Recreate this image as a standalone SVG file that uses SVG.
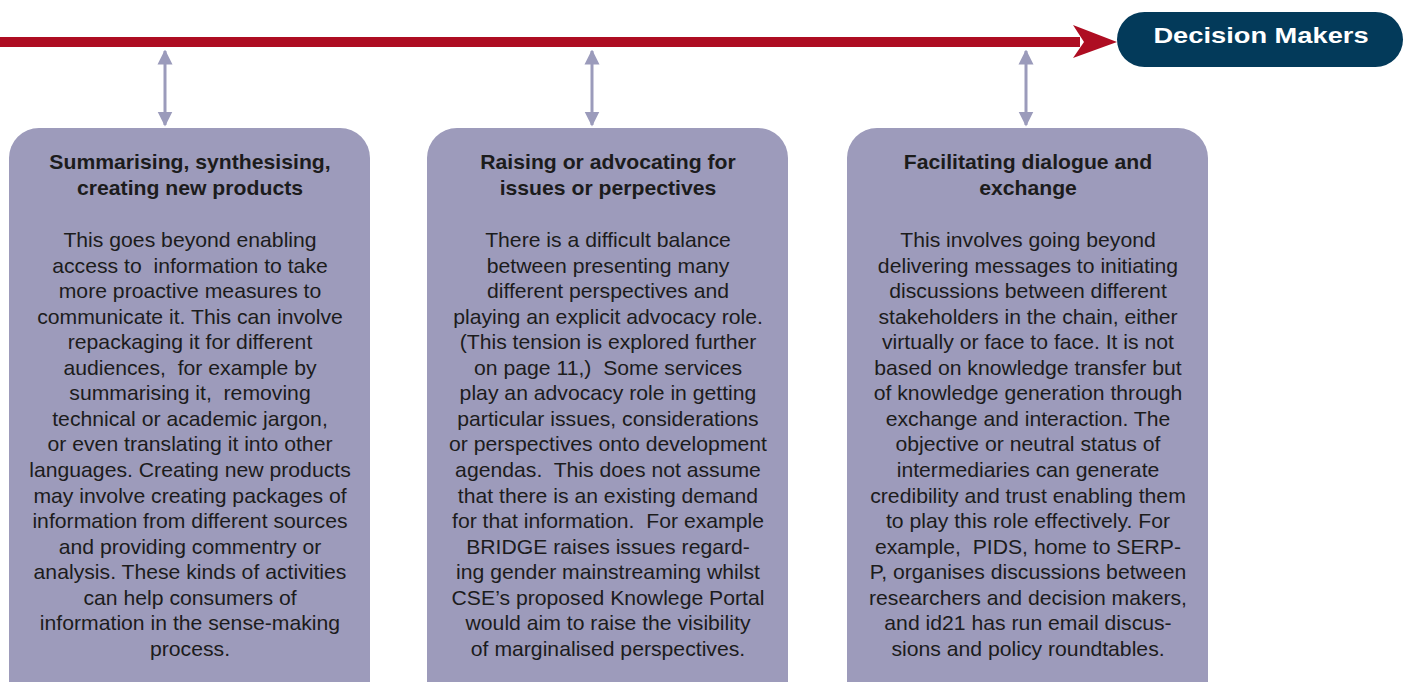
<svg xmlns="http://www.w3.org/2000/svg" width="1404" height="682" viewBox="0 0 1404 682">
<defs>
<style>
.box{fill:#9d9bbb}
.t{font-family:"Liberation Sans",Arial,sans-serif;font-size:20px;fill:#1c1c1c;text-anchor:middle;white-space:pre}
.h{font-weight:bold;font-size:20px}
.dm{font-family:"Liberation Sans",Arial,sans-serif;font-size:22px;font-weight:bold;fill:#ffffff;text-anchor:middle}
.dbl{stroke:#9b9bbb;stroke-width:3;fill:none}
</style>
<marker id="ah" viewBox="0 0 10 10" refX="9" refY="5" markerWidth="5" markerHeight="6" markerUnits="strokeWidth" orient="auto-start-reverse">
<path d="M0,0 L10,5 L0,10 Z" fill="#9b9bbb"/>
</marker>
</defs>
<g id="connectors">
<rect x="0" y="37" width="1080" height="10" fill="#ae0d22"/>
<path d="M1073,25 L1117,42 L1073,58 L1084,42 Z" fill="#ae0d22"/>
<line class="dbl" x1="165" y1="51" x2="165" y2="125" marker-start="url(#ah)" marker-end="url(#ah)"/>
<line class="dbl" x1="592" y1="51" x2="592" y2="125" marker-start="url(#ah)" marker-end="url(#ah)"/>
<line class="dbl" x1="1026" y1="51" x2="1026" y2="125" marker-start="url(#ah)" marker-end="url(#ah)"/>
</g>
<g id="decision-makers">
<rect x="1117" y="12" width="286" height="55" rx="27.5" fill="#033a5a"/>
<text class="dm" transform="translate(1261,43) scale(1.24,1)" x="0" y="0">Decision Makers</text>
</g>
<g id="box1">
<rect class="box" x="9" y="128" width="361" height="600" rx="30"/>
<g transform="translate(190,1) scale(1.06,1)">
<text class="t h" x="0" y="168">Summarising, synthesising,</text>
<text class="t h" x="0" y="194">creating new products</text>
<text class="t" x="0" y="246">This goes beyond enabling</text>
<text class="t" x="0" y="272" xml:space="preserve">access to  information to take</text>
<text class="t" x="0" y="297">more proactive measures to</text>
<text class="t" x="0" y="323">communicate it. This can involve</text>
<text class="t" x="0" y="348">repackaging it for different</text>
<text class="t" x="0" y="374" xml:space="preserve">audiences,  for example by</text>
<text class="t" x="0" y="399" xml:space="preserve">summarising it,  removing</text>
<text class="t" x="0" y="425">technical or academic jargon,</text>
<text class="t" x="0" y="450">or even translating it into other</text>
<text class="t" x="0" y="476">languages. Creating new products</text>
<text class="t" x="0" y="502">may involve creating packages of</text>
<text class="t" x="0" y="527">information from different sources</text>
<text class="t" x="0" y="553">and providing commentry or</text>
<text class="t" x="0" y="578">analysis. These kinds of activities</text>
<text class="t" x="0" y="604">can help consumers of</text>
<text class="t" x="0" y="629">information in the sense-making</text>
<text class="t" x="0" y="655">process.</text>
</g>
</g>
<g id="box2">
<rect class="box" x="427" y="128" width="361" height="600" rx="30"/>
<g transform="translate(608,1) scale(1.06,1)">
<text class="t h" x="0" y="168">Raising or advocating for</text>
<text class="t h" x="0" y="194">issues or perpectives</text>
<text class="t" x="0" y="246">There is a difficult balance</text>
<text class="t" x="0" y="272">between presenting many</text>
<text class="t" x="0" y="297">different perspectives and</text>
<text class="t" x="0" y="323">playing an explicit advocacy role.</text>
<text class="t" x="0" y="348">(This tension is explored further</text>
<text class="t" x="0" y="374" xml:space="preserve">on page 11,)  Some services</text>
<text class="t" x="0" y="399">play an advocacy role in getting</text>
<text class="t" x="0" y="425">particular issues, considerations</text>
<text class="t" x="0" y="450">or perspectives onto development</text>
<text class="t" x="0" y="476" xml:space="preserve">agendas.  This does not assume</text>
<text class="t" x="0" y="502">that there is an existing demand</text>
<text class="t" x="0" y="527" xml:space="preserve">for that information.  For example</text>
<text class="t" x="0" y="553">BRIDGE raises issues regard-</text>
<text class="t" x="0" y="578">ing gender mainstreaming whilst</text>
<text class="t" x="0" y="604">CSE’s proposed Knowlege Portal</text>
<text class="t" x="0" y="629">would aim to raise the visibility</text>
<text class="t" x="0" y="655">of marginalised perspectives.</text>
</g>
</g>
<g id="box3">
<rect class="box" x="847" y="128" width="361" height="600" rx="30"/>
<g transform="translate(1028,1) scale(1.06,1)">
<text class="t h" x="0" y="168">Facilitating dialogue and</text>
<text class="t h" x="0" y="194">exchange</text>
<text class="t" x="0" y="246">This involves going beyond</text>
<text class="t" x="0" y="272">delivering messages to initiating</text>
<text class="t" x="0" y="297">discussions between different</text>
<text class="t" x="0" y="323">stakeholders in the chain, either</text>
<text class="t" x="0" y="348">virtually or face to face. It is not</text>
<text class="t" x="0" y="374">based on knowledge transfer but</text>
<text class="t" x="0" y="399">of knowledge generation through</text>
<text class="t" x="0" y="425">exchange and interaction. The</text>
<text class="t" x="0" y="450">objective or neutral status of</text>
<text class="t" x="0" y="476">intermediaries can generate</text>
<text class="t" x="0" y="502">credibility and trust enabling them</text>
<text class="t" x="0" y="527">to play this role effectively. For</text>
<text class="t" x="0" y="553" xml:space="preserve">example,  PIDS, home to SERP-</text>
<text class="t" x="0" y="578">P, organises discussions between</text>
<text class="t" x="0" y="604">researchers and decision makers,</text>
<text class="t" x="0" y="629">and id21 has run email discus-</text>
<text class="t" x="0" y="655">sions and policy roundtables.</text>
</g>
</g>
</svg>
